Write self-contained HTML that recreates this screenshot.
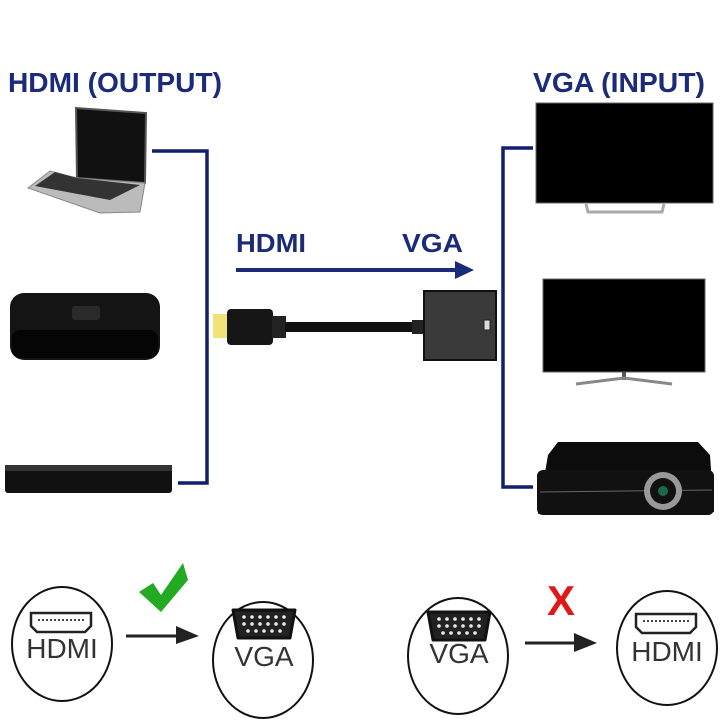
<!DOCTYPE html>
<html><head><style>
body{margin:0;background:#fff;}
svg{display:block;}
text{font-family:"Liberation Sans",sans-serif;}
</style></head><body>
<svg width="720" height="720" viewBox="0 0 720 720" xmlns="http://www.w3.org/2000/svg">
<rect width="720" height="720" fill="#fff"/>
<text x="8" y="92" font-size="28" font-weight="bold" fill="#1c2a7a" textLength="214" lengthAdjust="spacingAndGlyphs">HDMI (OUTPUT)</text>
<text x="533" y="92" font-size="28" font-weight="bold" fill="#1c2a7a" textLength="172" lengthAdjust="spacingAndGlyphs">VGA (INPUT)</text>
<!-- brackets -->
<polyline points="152,151 207,151 207,483 178,483" fill="none" stroke="#141e6e" stroke-width="3.5"/>
<polyline points="533,148 503,148 503,487 533,487" fill="none" stroke="#141e6e" stroke-width="3.5"/>
<!-- laptop -->
<polygon points="76,108 146,113 145,183 77,178" fill="#111" stroke="#555" stroke-width="2"/>
<polygon points="77,178 145,183 140,212 100,213 28,188 50,171" fill="#bbb" stroke="#888"/>
<polygon points="55,172 77,178 140,185 110,200 35,186" fill="#333"/>
<!-- media box -->
<rect x="10" y="293" width="150" height="67" rx="14" fill="#141414"/>
<rect x="12" y="330" width="146" height="28" rx="8" fill="#050505"/>
<rect x="72" y="306" width="28" height="14" rx="3" fill="#2a2a2a"/>
<!-- dvd -->
<rect x="5" y="465" width="167" height="28" rx="3" fill="#111"/>
<rect x="5" y="465" width="167" height="6" fill="#333"/>
<!-- TVs -->
<rect x="536" y="103" width="177" height="100" fill="#000" stroke="#666"/>
<path d="M586,204 L588,212 L662,212 L664,204" fill="none" stroke="#aaa" stroke-width="3"/>
<rect x="543" y="279" width="162" height="93" fill="#000" stroke="#666"/>
<rect x="622" y="372" width="4" height="8" fill="#555"/>
<path d="M576,384 L624,378 L672,384" fill="none" stroke="#888" stroke-width="3"/>
<!-- projector -->
<path d="M548,455 L558,442 L698,442 L710,455 L714,512 L538,514 Z" fill="#0c0c0c"/>
<rect x="537" y="470" width="177" height="45" rx="6" fill="#111"/>
<line x1="540" y1="492" x2="712" y2="490" stroke="#666"/>
<circle cx="663" cy="491" r="19" fill="#999"/>
<circle cx="663" cy="491" r="13" fill="#111"/>
<circle cx="663" cy="491" r="5" fill="#1a6a4a"/>
<!-- HDMI VGA label -->
<text x="236" y="252" font-size="26" font-weight="bold" fill="#1c2a7a" textLength="70" lengthAdjust="spacingAndGlyphs">HDMI</text>
<text x="402" y="252" font-size="26" font-weight="bold" fill="#1c2a7a" textLength="61" lengthAdjust="spacingAndGlyphs">VGA</text>
<line x1="236" y1="270" x2="458" y2="270" stroke="#1c2a7a" stroke-width="4"/>
<polygon points="455,261 474,270 455,279" fill="#1c2a7a"/>
<!-- cable -->
<rect x="213" y="314" width="16" height="24" fill="#f2e27a"/>
<rect x="227" y="309" width="46" height="36" rx="4" fill="#161616"/>
<rect x="272" y="316" width="14" height="22" fill="#222"/>
<rect x="285" y="322" width="130" height="10" fill="#111"/>
<rect x="412" y="320" width="14" height="14" fill="#222"/>
<rect x="424" y="291" width="72" height="69" fill="#3a3a3a" stroke="#111" stroke-width="2"/>
<rect x="484" y="320" width="6" height="10" fill="#ddd" stroke="#222"/>
<!-- bottom circles -->
<g fill="none" stroke="#111" stroke-width="2">
<ellipse cx="62" cy="644" rx="50" ry="57"/>
<ellipse cx="263" cy="660" rx="50" ry="58"/>
<ellipse cx="458" cy="656" rx="50" ry="58"/>
<ellipse cx="667" cy="648" rx="50" ry="57"/>
</g>
<g fill="#fff" stroke="#222" stroke-width="2.5">
<path d="M31,613 L91,613 L91,626 L85,632 L37,632 L31,626 Z"/>
<path d="M636,614 L696,614 L696,627 L690,633 L642,633 L636,627 Z"/>
</g>
<line x1="38" y1="620" x2="84" y2="620" stroke="#444" stroke-width="2" stroke-dasharray="2 2"/>
<line x1="643" y1="621" x2="689" y2="621" stroke="#444" stroke-width="2" stroke-dasharray="2 2"/>
<g>
<path d="M233,610 L295,610 L290,638 L238,638 Z" fill="#222" stroke="#111" stroke-width="3" stroke-linejoin="round"/>
<path d="M428,612 L490,612 L485,640 L433,640 Z" fill="#222" stroke="#111" stroke-width="3" stroke-linejoin="round"/>
</g>
<g fill="#eee">
<circle cx="244" cy="617" r="1.8"/><circle cx="252" cy="617" r="1.8"/><circle cx="260" cy="617" r="1.8"/><circle cx="268" cy="617" r="1.8"/><circle cx="276" cy="617" r="1.8"/><circle cx="284" cy="617" r="1.8"/>
<circle cx="244" cy="624" r="1.8"/><circle cx="252" cy="624" r="1.8"/><circle cx="260" cy="624" r="1.8"/><circle cx="268" cy="624" r="1.8"/><circle cx="276" cy="624" r="1.8"/><circle cx="284" cy="624" r="1.8"/>
<circle cx="248" cy="631" r="1.8"/><circle cx="256" cy="631" r="1.8"/><circle cx="264" cy="631" r="1.8"/><circle cx="272" cy="631" r="1.8"/><circle cx="280" cy="631" r="1.8"/>
<circle cx="439" cy="619" r="1.8"/><circle cx="447" cy="619" r="1.8"/><circle cx="455" cy="619" r="1.8"/><circle cx="463" cy="619" r="1.8"/><circle cx="471" cy="619" r="1.8"/><circle cx="479" cy="619" r="1.8"/>
<circle cx="439" cy="626" r="1.8"/><circle cx="447" cy="626" r="1.8"/><circle cx="455" cy="626" r="1.8"/><circle cx="463" cy="626" r="1.8"/><circle cx="471" cy="626" r="1.8"/><circle cx="479" cy="626" r="1.8"/>
<circle cx="443" cy="633" r="1.8"/><circle cx="451" cy="633" r="1.8"/><circle cx="459" cy="633" r="1.8"/><circle cx="467" cy="633" r="1.8"/><circle cx="475" cy="633" r="1.8"/>
</g>
<g font-size="28" fill="#333" text-anchor="middle">
<text x="62" y="658">HDMI</text>
<text x="264" y="666">VGA</text>
<text x="459" y="663">VGA</text>
<text x="667" y="661">HDMI</text>
</g>
<line x1="126" y1="636" x2="180" y2="636" stroke="#222" stroke-width="3"/>
<polygon points="176,626 199,636 176,644" fill="#222"/>
<line x1="525" y1="643" x2="578" y2="643" stroke="#222" stroke-width="3"/>
<polygon points="574,633 597,643 574,652" fill="#222"/>
<path d="M139,592 L153,583 L161,595 L183,563 L188,580 L161,612 Z" fill="#22aa22"/>
<text x="561" y="615" font-size="42" font-weight="bold" fill="#e01818" text-anchor="middle">X</text>
</svg>
</body></html>
